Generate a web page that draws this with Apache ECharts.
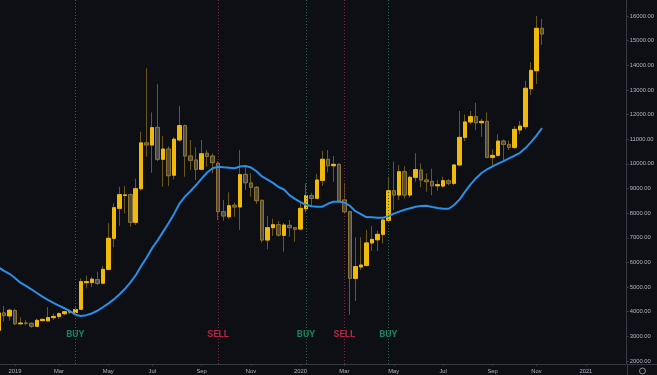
<!DOCTYPE html>
<html><head><meta charset="utf-8">
<script src="https://cdn.jsdelivr.net/npm/echarts@6/dist/echarts.min.js"></script>
<style>html,body{margin:0;padding:0;background:#0d0f14;}#c{width:657px;height:375px;}</style>
</head><body><div id="c"></div>
<script>
const weeks = [
'2018-12-17','2018-12-24','2018-12-31',
'2019-01-07','2019-01-14','2019-01-21','2019-01-28','2019-02-04','2019-02-11','2019-02-18','2019-02-25',
'2019-03-04','2019-03-11','2019-03-18','2019-03-25','2019-04-01','2019-04-08','2019-04-15','2019-04-22','2019-04-29',
'2019-05-06','2019-05-13','2019-05-20','2019-05-27','2019-06-03','2019-06-10','2019-06-17','2019-06-24',
'2019-07-01','2019-07-08','2019-07-15','2019-07-22','2019-07-29','2019-08-05','2019-08-12','2019-08-19','2019-08-26',
'2019-09-02','2019-09-09','2019-09-16','2019-09-23','2019-09-30','2019-10-07','2019-10-14','2019-10-21','2019-10-28',
'2019-11-04','2019-11-11','2019-11-18','2019-11-25','2019-12-02','2019-12-09','2019-12-16','2019-12-23','2019-12-30',
'2020-01-06','2020-01-13','2020-01-20','2020-01-27','2020-02-03','2020-02-10','2020-02-17','2020-02-24',
'2020-03-02','2020-03-09','2020-03-16','2020-03-23','2020-03-30','2020-04-06','2020-04-13','2020-04-20','2020-04-27',
'2020-05-04','2020-05-11','2020-05-18','2020-05-25','2020-06-01','2020-06-08','2020-06-15','2020-06-22','2020-06-29',
'2020-07-06','2020-07-13','2020-07-20','2020-07-27','2020-08-03','2020-08-10','2020-08-17','2020-08-24','2020-08-31',
'2020-09-07','2020-09-14','2020-09-21','2020-09-28','2020-10-05','2020-10-12','2020-10-19','2020-10-26',
'2020-11-02','2020-11-09'];
const opens = [
3250,3950,3830,4050,3510,3540,3530,3410,3640,3630,
3760,3810,3920,3985,3970,4100,5180,5190,5300,5160,
5720,6980,8195,8720,8750,7630,8990,10850,10765,11480,
10185,10600,9540,10970,11550,10320,10155,9780,10430,10320,
10020,8060,7855,8320,8250,9575,9225,9050,8520,6910,
7410,7530,7100,7505,7410,7355,8180,8710,8600,9330,
10185,9925,9980,8535,8060,5355,5815,5880,6790,6920,
7140,7710,8910,8735,9680,8735,9455,9750,9345,9290,
9110,9100,9315,9210,9955,11075,11700,11915,11670,11725,
10265,10345,10925,10790,10670,11375,11510,13050,13780,15500];
const closes = [
3950,3840,4060,3510,3540,3530,3410,3650,3690,3760,
3810,3920,4000,4010,4090,5220,5220,5320,5150,5720,
6980,8220,8750,8740,7630,8990,10850,10770,11470,10185,
10600,9520,11000,11550,10320,10145,9780,10410,10300,10050,
8060,7885,8300,8250,9560,9235,9050,8505,6910,7410,
7530,7110,7520,7410,7345,8195,8710,8600,9345,10185,
9925,9980,8505,8060,5355,5830,5895,6790,6935,7140,
7720,8910,8735,9680,8735,9455,9765,9345,9275,9110,
9155,9315,9210,9955,11075,11700,11915,11670,11725,10265,
10345,10925,10790,10670,11400,11535,13065,13795,15500,15270];
const lows = [
3220,3600,3640,3460,3475,3450,3340,3400,3600,3620,
3663,3716,3860,3906,3930,4080,4950,5000,5080,5110,
5680,6614,7478,7993,7450,7520,8910,10290,9640,10115,
9070,9100,9370,10900,9480,9750,9345,9750,9880,9615,
7720,7690,7775,7855,7315,8940,8670,8370,6800,6530,
7075,7045,6435,7045,6840,7300,8020,8260,8580,9110,
9655,9275,8450,7965,3870,4435,5690,5830,6465,6465,
6775,7650,8130,8530,8600,8640,9275,9050,8870,8725,
8910,9030,9120,9130,9900,10925,11600,11375,11100,10225,
9885,10300,10155,10560,10600,11200,11400,12795,13240,14825];
const highs = [
4200,4230,4120,4120,3770,3650,3560,3716,3720,4190,
3935,3980,4040,4057,4180,5355,5470,5420,5620,5855,
7590,8400,9073,9100,8800,9400,11305,13880,12090,13230,
11130,10710,11080,12350,11600,10970,10670,10970,10560,10430,
10100,8535,8845,8425,10560,9950,9617,9100,8550,7885,
7775,7680,7600,7720,7430,8400,9210,8830,9590,10530,
10560,10320,10020,9235,8100,7020,7020,7315,7480,7290,
7780,9480,10090,9950,9900,9520,10430,10020,9615,9805,
9350,9480,9380,9990,12145,12000,12145,12480,11830,12090,
10590,11200,10990,10950,11535,11740,13375,14120,16000,15880];
const ma = [
5800,5660,5540,5370,5180,5050,4910,4760,4610,4480,
4360,4250,4140,4030,3880,3830,3860,3930,4040,4180,
4330,4500,4700,4920,5180,5480,5860,6200,6590,6900,
7250,7600,7980,8400,8680,8900,9140,9400,9650,9820,
9885,9860,9840,9820,9890,9913,9850,9700,9490,9360,
9230,9060,8960,8730,8580,8450,8340,8280,8262,8262,
8380,8460,8464,8430,8300,8080,7960,7840,7830,7815,
7815,7870,7980,8060,8140,8200,8260,8295,8300,8250,
8210,8180,8180,8330,8560,8870,9170,9420,9630,9780,
9900,10010,10110,10225,10330,10450,10640,10880,11150,11450];
const tickDates = ['2019-01-07','2019-03-04','2019-05-06','2019-07-01','2019-09-02','2019-11-04',
  '2020-01-06','2020-03-02','2020-05-04','2020-07-06','2020-09-07','2020-11-02','2021-01-04'];
const tickLabels = ['2019','Mar','May','Jul','Sep','Nov','2020','Mar','May','Jul','Sep','Nov','2021'];
const signalDates = ['2019-03-25','2019-09-23','2020-01-13','2020-03-02','2020-04-27'];
const signalTypes = ['BUY','SELL','BUY','SELL','BUY'];
const yTicks = [2000,3000,4000,5000,6000,7000,8000,9000,10000,11000,12000,13000,14000,15000,16000];

const WEEK = 7 * 86400000;
const t0 = Date.parse(weeks[0]);
const wi = d => Math.round((Date.parse(d) - t0) / WEEK);
const xs = weeks.map(wi);
const tickIdx = tickDates.map(wi);
const sigIdx = signalDates.map(wi);

const bg = '#0d0f14', axisC = '#363a45', txtC = '#b2b5be';
const upC = '#f0b90b', downFill = '#4d4b44', downBorder = '#8a7430', wickC = '#6b5818';
const labelPrice = 3055;
const sigStyle = {
  BUY: {text: '#1f9d6e', line: '#1d6a4f'},
  SELL: {text: '#dd2a4d', line: '#7a2339'}
};

const wickData = xs.map((x, i) => [x, opens[i], closes[i], lows[i], highs[i]]);
const bodyData = xs.map((x, i) => [x, opens[i], closes[i], Math.min(opens[i], closes[i]), Math.max(opens[i], closes[i])]);
const maData = xs.map((x, i) => [x, ma[i]]);

function signalSeries(type) {
  const idx = sigIdx.filter((x, i) => signalTypes[i] === type);
  return {
    type: 'scatter', name: type, symbolSize: 1, silent: true, z: 1,
    itemStyle: {color: 'rgba(0,0,0,0)'},
    data: idx.map(x => [x, labelPrice]),
    label: {show: true, position: 'inside', formatter: type, color: sigStyle[type].text,
      fontFamily: 'Roboto, sans-serif', fontSize: 9.5, fontWeight: 'bold'},
    markLine: {
      silent: true, symbol: 'none', label: {show: false},
      lineStyle: {color: sigStyle[type].line, type: [1, 2], width: 1},
      emphasis: {disabled: true},
      data: idx.map(x => ({xAxis: x}))
    }
  };
}

const chart = echarts.init(document.getElementById('c'), null, {renderer: 'canvas'});
chart.setOption({
  backgroundColor: bg,
  animation: false,
  grid: {left: 0, right: 30, top: 0, bottom: 11},
  xAxis: {
    type: 'value', min: 1.5 / 5.5, max: 1.5 / 5.5 + 114,
    splitLine: {show: false},
    axisLine: {show: true, onZero: false, lineStyle: {color: axisC, width: 1}},
    axisTick: {show: true, customValues: tickIdx, length: 2, lineStyle: {color: axisC}},
    axisLabel: {customValues: tickIdx, formatter: v => tickLabels[tickIdx.indexOf(v)] || '',
      color: txtC, fontSize: 5.8, margin: 4, fontFamily: 'Liberation Sans, Arial, sans-serif'}
  },
  yAxis: {
    type: 'value', position: 'right', min: 1878.4, max: 16649.3,
    splitLine: {show: false},
    axisLine: {show: true, lineStyle: {color: axisC, width: 1}},
    axisTick: {show: true, customValues: yTicks, length: 3, lineStyle: {color: axisC}},
    axisLabel: {customValues: yTicks, formatter: v => v.toFixed(2),
      color: txtC, fontSize: 5.8, margin: 4, fontFamily: 'Liberation Sans, Arial, sans-serif'}
  },
  series: [
    signalSeries('BUY'),
    signalSeries('SELL'),
    {
      type: 'candlestick', silent: true, barWidth: 4, z: 2,
      data: wickData,
      itemStyle: {color: upC, color0: downFill, borderColor: wickC, borderColor0: wickC, borderWidth: 1}
    },
    {
      type: 'candlestick', silent: true, barWidth: 4, z: 3,
      data: bodyData,
      itemStyle: {color: upC, color0: downFill, borderColor: upC, borderColor0: downBorder, borderWidth: 1}
    },
    {
      type: 'line', data: maData, showSymbol: false, silent: true, z: 4,
      lineStyle: {color: '#2a8fe8', width: 2}
    }
  ],
  graphic: [
    {type: 'line', silent: true, shape: {x1: 627, y1: 364.5, x2: 657, y2: 364.5}, style: {stroke: axisC, lineWidth: 1}},
    {type: 'line', silent: true, shape: {x1: 627.5, y1: 364, x2: 627.5, y2: 375}, style: {stroke: axisC, lineWidth: 1}},
    {type: 'circle', silent: true, shape: {cx: 642.5, cy: 371, r: 3}, style: {fill: 'none', stroke: '#8a8d96', lineWidth: 1}}
  ]
});
</script>
</body></html>
